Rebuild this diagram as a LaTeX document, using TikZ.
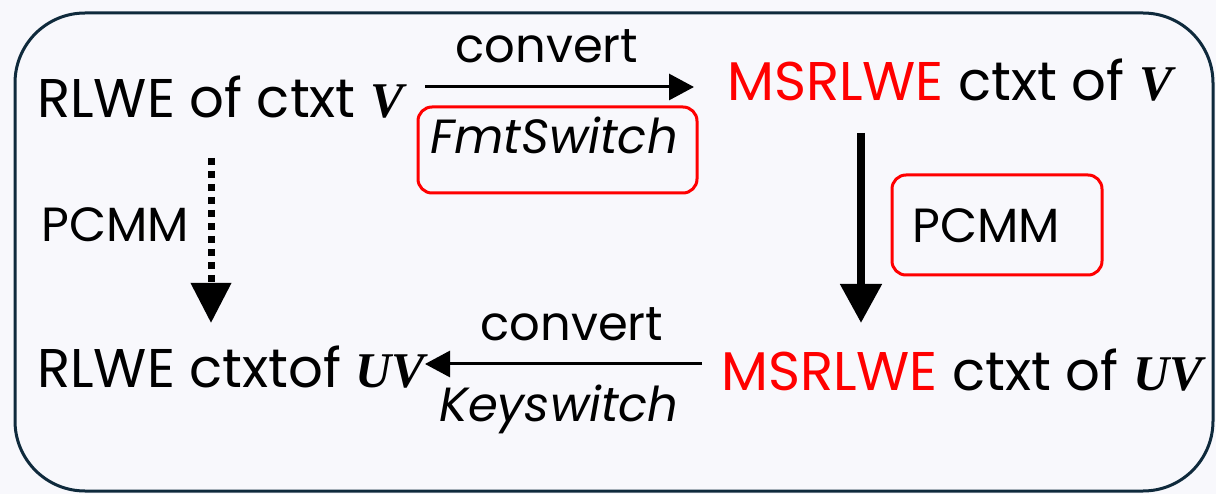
\documentclass[tikz,border=0pt]{standalone}
\usepackage{fontspec}
\setmainfont{Poppins}
\newfontfamily\bivar{Liberation Serif}
\newcommand\bvar[1]{{\bivar\fontsize{50}{60}\selectfont\bfseries\itshape #1}}
\usetikzlibrary{arrows.meta}
\definecolor{bg}{HTML}{F8F8FC}
\definecolor{framec}{HTML}{0F2A3C}
\definecolor{myred}{HTML}{FF0000}
\begin{document}
\begin{tikzpicture}[x=1pt,y=-1pt,
  txt/.style={inner sep=0pt, anchor=base west, font=\fontsize{54.5}{60}\selectfont},
  lbl/.style={inner sep=0pt, anchor=base, font=\fontsize{48}{52}\selectfont},
  redbox/.style={draw=myred, line width=3pt, rounded corners=14pt, inner sep=0pt},
  thinarr/.style={line width=3pt, -{Triangle[length=25pt,width=26pt]}},
  thickarr/.style={line width=8pt, -{Triangle[length=39pt,width=40pt]}},
  dotarr/.style={line width=7pt, dash pattern=on 7pt off 6pt, -{Triangle[length=40pt,width=39pt]}},
]
\fill[bg] (0,0) rectangle (1216,494);
\draw[framec, line width=3pt, rounded corners=70pt] (15,13) rectangle (1213,491);

\node[txt] (a) at (37,118) {RLWE of ctxt \bvar{V}};
\node[txt] (b) at (727,101) {\textcolor{myred}{MSRLWE} ctxt of \bvar{V}};
\node[txt] (c) at (721,390) {\textcolor{myred}{MSRLWE} ctxt of \bvar{UV}};
\node[txt] (d) at (37,388) {RLWE ctxtof \bvar{UV}};

\coordinate (t1) at (425,87);
\coordinate (t2) at (694,87);
\draw[thinarr] (t1) -- (t2);
\node[lbl] (conv1) at (547,63) {convert};
\node[redbox, minimum width=279pt, minimum height=86pt] (fbox) at (557.5,150) {};
\node[lbl] (fmt) at (554,154) {\itshape FmtSwitch};

\coordinate (r1) at (861,133);
\coordinate (r2) at (861,323);
\draw[thickarr] (r1) -- (r2);
\node[redbox, minimum width=210pt, minimum height=100pt] (pbox) at (997,225) {};
\node[lbl] (pcmm2) at (986,243) {PCMM};

\coordinate (l1) at (211,158);
\coordinate (l2) at (211,323);
\draw[dotarr] (l1) -- (l2);
\node[lbl] (pcmm1) at (115,242) {PCMM};

\coordinate (b1) at (702,364);
\coordinate (b2) at (425,364);
\draw[thinarr] (b1) -- (b2);
\node[lbl] (conv2) at (572,341) {convert};
\node[lbl] (ks) at (559,421) {\itshape Keyswitch};
\end{tikzpicture}
\end{document}
